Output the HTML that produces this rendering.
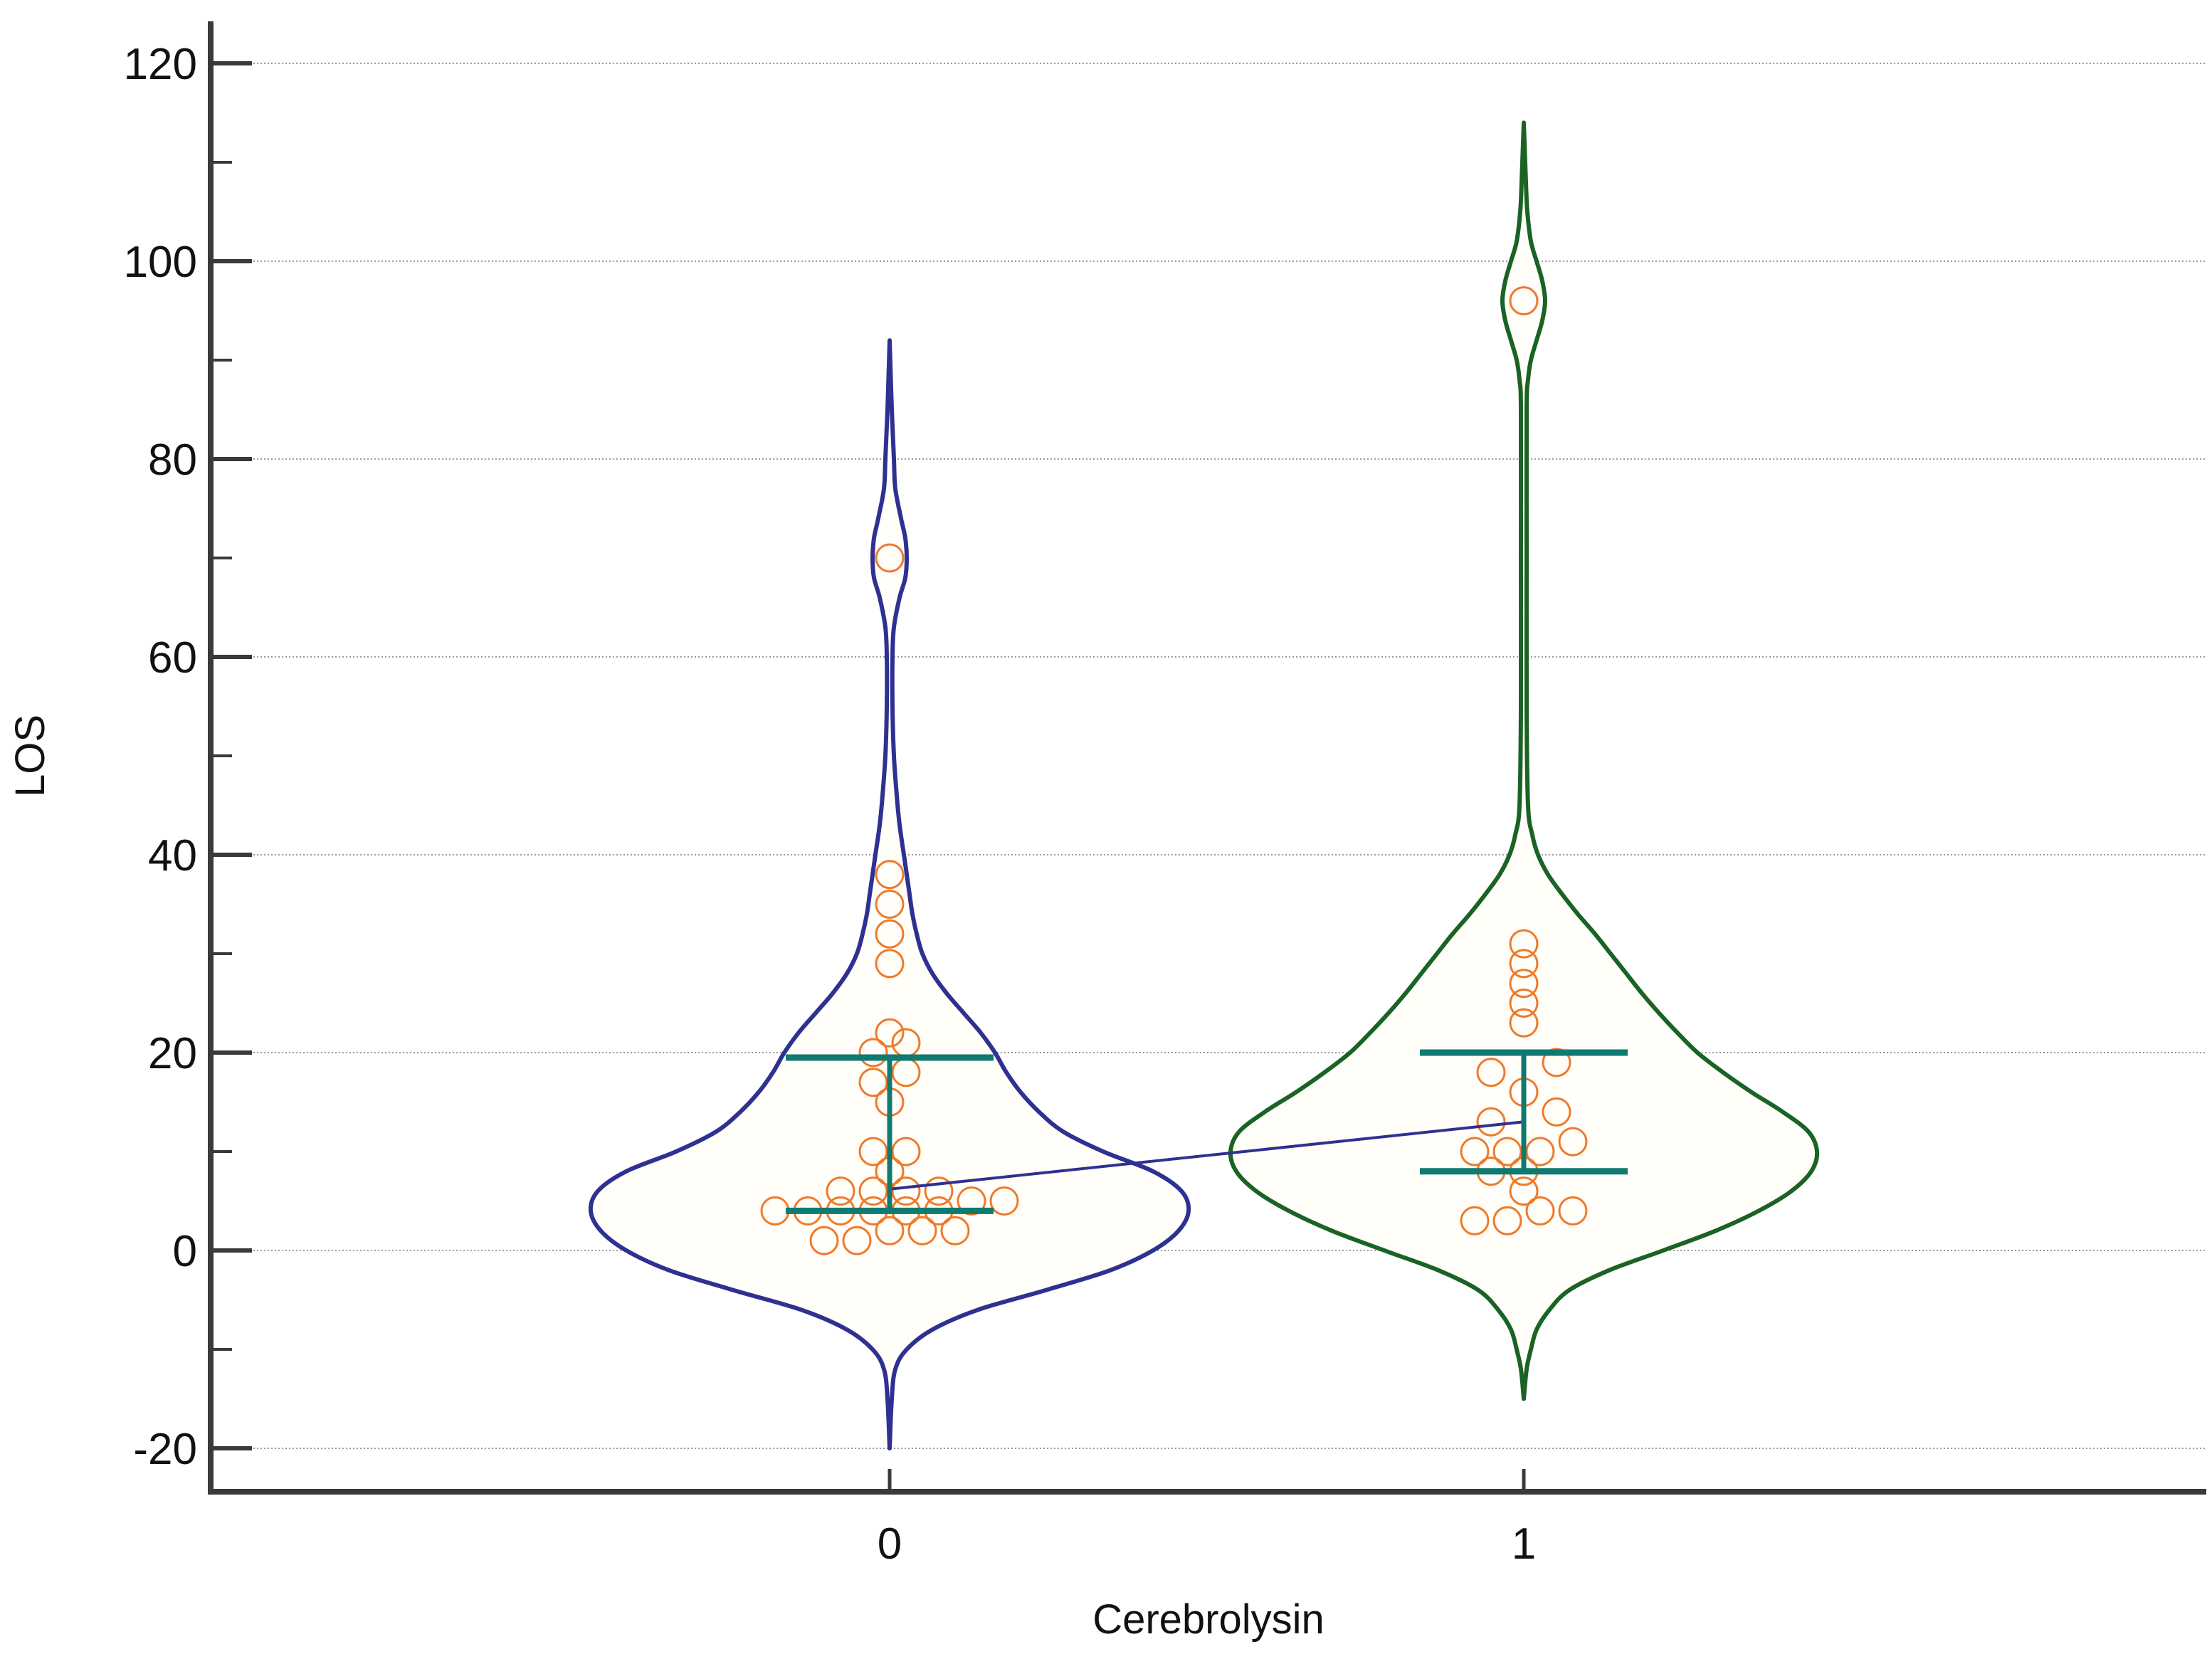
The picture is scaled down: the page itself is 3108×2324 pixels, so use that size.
<!DOCTYPE html>
<html><head><meta charset="utf-8"><style>
html,body{margin:0;padding:0;background:#fff;}
svg{display:block;font-family:"Liberation Sans",Arial,sans-serif;}
</style></head><body>
<svg id="chart" width="3108" height="2324" viewBox="0 0 3108 2324" xmlns="http://www.w3.org/2000/svg">
<g id="grid"></g>
<g id="violins"></g>
<g id="points"></g>
<g id="stats"></g>
<g id="axes"></g>
<text x="0" y="0" transform="translate(62,1062) rotate(-90)" text-anchor="middle" font-size="58" fill="#111">LOS</text>
<text x="1698" y="2295" text-anchor="middle" font-size="58" fill="#111">Cerebrolysin</text>
</svg>
<script>
// ---- data ----
const categories = ["0", "1"];
const yTicks = [-20, 0, 20, 40, 60, 80, 100, 120];
const yMinorTicks = [-10, 10, 30, 50, 70, 90, 110];
// violin density profile: values and half-widths (relative units)
const violin0Values = [-20,-15,-12,-10,-8,-6,-4,-2,0,2,4,6,8,10,12,14,16,18,20,22,24,26,28,30,32,34,36,38,40,43,46,50,55,60,63,66,68,70,72,74,77,80,85,92];
const violin0Widths = [0,1.5,4,12,30,62,110,155,185,203,210,205,185,150,122,105,92,82,74,64,52,40,30,23,19,16,14,12,10,7,5,3,2,2,3,7,11,12,11,8,4,3,1.5,0];
const violin1Values = [-15,-12,-10,-8,-6,-4,-2,0,2,4,6,8,10,12,14,16,18,20,22,24,26,28,30,32,34,36,38,40,42,45,55,70,85,88,90,92,94,96,98,100,102,105,108,114];
const violin1Widths = [0,2,5,9,18,32,60,98,135,165,188,202,206,200,182,160,140,122,108,95,83,72,61,50,38,27,17,10,6,3,2,2,2,3,5,9,13,15,13,9,5,2.5,1.5,0];
// observations: value and dodge slot
const group0Vals  = [70,38,35,32,29,22,21,20,18,17,15,10,10,8,6,6,6,6,5,5,4,4,4,4,4,4,2,2,2,1,1];
const group0Slots = [0,0,0,0,0,0,1,-1,1,-1,0,-1,1,0,-3,-1,1,3,5,7,-7,-5,-3,-1,1,3,0,2,4,-4,-2];
const group1Vals  = [96,31,29,27,25,23,19,18,16,14,13,11,10,10,10,8,8,6,4,4,3,3];
const group1Slots = [0,0,0,0,0,0,2,-2,0,2,-2,3,-3,-1,1,-2,0,0,1,3,-3,-1];
const q1 = [4, 8];
const q3 = [19.5, 20];
const means = [6.2, 13];

// ---- scales ----
const NS = "http://www.w3.org/2000/svg";
const Y0PX = 1757, PXU = 13.9;
function yS(v){ return Y0PX - v*PXU; }
const catX = [1250, 2141];
function xS(i){ return catX[i]; }
const WSCALE = 2.0, SLOT = 23;

function mk(tag, attrs, parent){
  const e = document.createElementNS(NS, tag);
  for (const k in attrs) e.setAttribute(k, attrs[k]);
  parent.appendChild(e);
  return e;
}

const grid = document.getElementById('grid');
const axes = document.getElementById('axes');
yTicks.forEach(t => {
  const g = mk('line', {x1:356, x2:3098, y1:yS(t), y2:yS(t), stroke:'#9a9a9a', 'stroke-width':2, 'stroke-dasharray':'2 3'}, grid);
  
  
  const tk = mk('line', {x1:296, x2:354, y1:yS(t), y2:yS(t), stroke:'#3a3a3a', 'stroke-width':6}, axes);
  
  
  const lb = mk('text', {x:277, y:yS(t)+22, 'text-anchor':'end', 'font-size':62, fill:'#111'}, axes);
  lb.textContent = t;
  
  
});
yMinorTicks.forEach(t => {
  const tk = mk('line', {x1:296, x2:326, y1:yS(t), y2:yS(t), stroke:'#3a3a3a', 'stroke-width':4}, axes);
  
  
});
const ya = mk('line', {x1:296, x2:296, y1:30, y2:2100, stroke:'#3a3a3a', 'stroke-width':8}, axes);


const xa = mk('line', {x1:292, x2:3100, y1:2096, y2:2096, stroke:'#3a3a3a', 'stroke-width':8}, axes);


categories.forEach((c, i) => {
  const tk = mk('line', {x1:xS(i), x2:xS(i), y1:2064, y2:2096, stroke:'#3a3a3a', 'stroke-width':5}, axes);
  
  
  const lb = mk('text', {x:xS(i), y:2190, 'text-anchor':'middle', 'font-size':62, fill:'#111'}, axes);
  lb.textContent = c;
  
  
});

function smoothPath(pts){
  let d = 'M' + pts[0][0] + ',' + pts[0][1];
  for (let i = 0; i < pts.length - 1; i++){
    const p0 = pts[Math.max(i-1,0)], p1 = pts[i], p2 = pts[i+1], p3 = pts[Math.min(i+2,pts.length-1)];
    const c1 = [p1[0] + (p2[0]-p0[0])/6, p1[1] + (p2[1]-p0[1])/6];
    const c2 = [p2[0] - (p3[0]-p1[0])/6, p2[1] - (p3[1]-p1[1])/6];
    d += ' C' + c1[0].toFixed(1) + ',' + c1[1].toFixed(1) + ' ' + c2[0].toFixed(1) + ',' + c2[1].toFixed(1) + ' ' + p2[0].toFixed(1) + ',' + p2[1].toFixed(1);
  }
  return d;
}
function violin(i, vals, widths, color){
  const cx = xS(i);
  const right = vals.map((v, k) => [cx + widths[k]*WSCALE, yS(v)]);
  const left = vals.map((v, k) => [cx - widths[k]*WSCALE, yS(v)]).reverse();
  const d = smoothPath(right) + ' L' + smoothPath(left).slice(1) + ' Z';
  const p = mk('path', {d:d, fill:'#fffef9', stroke:color, 'stroke-width':6, 'stroke-linejoin':'round'}, document.getElementById('violins'));
  
  
}
violin(0, violin0Values, violin0Widths, '#2e3192');
violin(1, violin1Values, violin1Widths, '#1a6324');

const pg = document.getElementById('points');
function pts(i, vals, slots){
  vals.forEach((v, k) => {
    const c = mk('circle', {cx:xS(i) + slots[k]*SLOT, cy:yS(v), r:19, fill:'none', stroke:'#ef7a2a', 'stroke-width':3}, pg);
    
    
  });
}
pts(0, group0Vals, group0Slots);
pts(1, group1Vals, group1Slots);

const sg = document.getElementById('stats');
const ml = mk('line', {x1:xS(0), y1:yS(means[0]), x2:xS(1), y2:yS(means[1]), stroke:'#2e3192', 'stroke-width':4}, sg);


categories.forEach((c, i) => {
  const cx = xS(i);
  const v = mk('line', {x1:cx, x2:cx, y1:yS(q1[i]), y2:yS(q3[i]), stroke:'#0f7a70', 'stroke-width':7}, sg);
  
  
  const a = mk('line', {x1:cx-146, x2:cx+146, y1:yS(q3[i]), y2:yS(q3[i]), stroke:'#0f7a70', 'stroke-width':9}, sg);
  
  
  const b = mk('line', {x1:cx-146, x2:cx+146, y1:yS(q1[i]), y2:yS(q1[i]), stroke:'#0f7a70', 'stroke-width':9}, sg);
  
  
});
</script>
</body></html>
